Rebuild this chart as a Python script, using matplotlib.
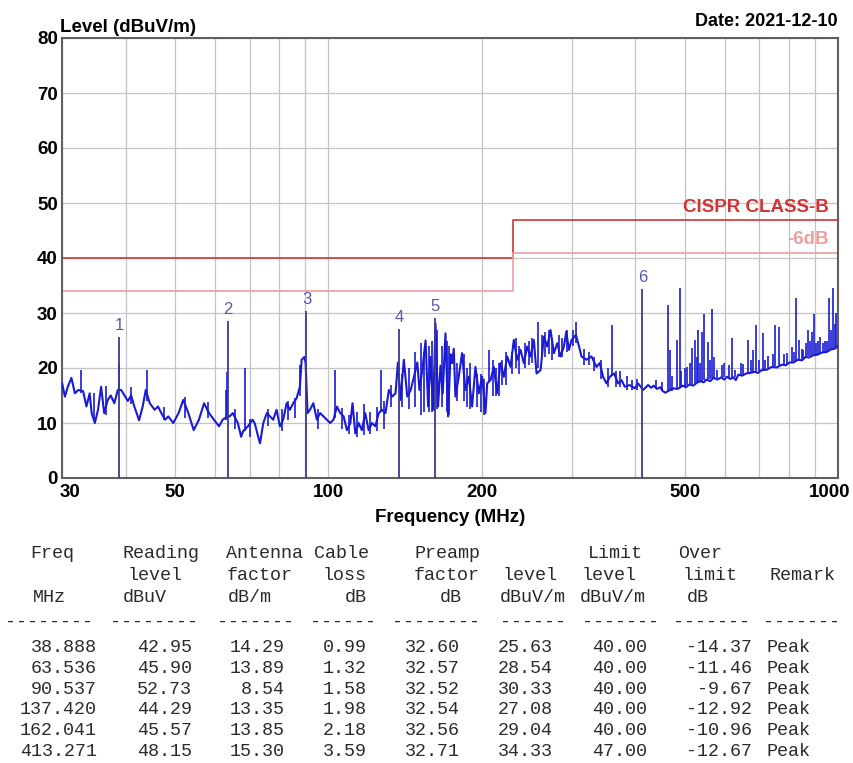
import matplotlib
matplotlib.use("Agg")
import matplotlib.pyplot as plt
from matplotlib.ticker import FixedLocator, NullFormatter
from matplotlib.transforms import ScaledTranslation

# ---- scan trace (baseline) ----
trace_freq = [30.0, 30.4, 30.8, 31.3, 31.8, 32.3, 33.0, 33.5, 34.0, 34.3, 34.8, 35.3, 35.8, 36.3,
              36.9, 37.4, 38.0, 38.6, 39.2, 39.8, 40.4, 41.0, 41.6, 42.5, 43.2, 43.8, 44.6, 45.6,
              46.3, 47.0, 47.8, 48.5, 49.6, 50.8, 51.9, 53.1, 54.4, 55.7, 57.0, 58.3, 59.6, 61.0,
              62.0, 62.9, 64.0, 64.9, 66.4, 67.4, 68.0, 69.5, 71.0,
              71.7, 72.8, 73.4, 74.5, 75.7, 76.8, 77.9, 79.1, 80.3, 81.5, 82.8, 84.0, 85.3, 86.6,
              87.9, 88.6, 89.7, 90.2, 91.0, 92.0, 93.4, 94.9, 96.3, 97.8, 99.3, 100.8, 102.3, 103.9,
              105.5, 107.1, 108.7, 110.4, 111.5, 112.9, 114.6, 116.3, 118.1, 119.9, 121.8, 123.6,
              125.5, 127.4, 129.4, 131.4, 133.4, 135.4, 136.9, 138.5, 140.6, 142.8, 145.0, 147.2,
              149.4, 150.9, 152.8, 155.1, 156.9, 158.6, 160.5, 162.2, 164.1, 165.9, 167.6, 169.7,
              171.7, 173.6, 174.9, 176.2,
              177.5, 180.2, 182.9, 185.7, 188.5, 191.4, 194.3, 197.3, 200.3, 203.3, 204.9, 208.0,
              211.1, 214.3, 217.6, 220.9, 224.3, 227.7, 231.1, 234.6, 238.2, 241.8, 245.5, 249.2,
              253.0, 256.1, 260.8, 264.7, 268.8, 272.8, 277.0, 281.2, 285.4, 289.8, 292.9, 296.5,
              300.0, 305.9, 309.1, 313.8, 320.9, 328.2, 335.7, 340.8, 346.0, 351.2, 356.6, 363.6,
              370.3, 375.9, 381.6, 390.3, 399.2, 405.2, 414.5, 424.0,
              430.0, 434.6, 441.0, 447.9, 452.0, 458.1, 466.0, 475.6, 485.0, 496.0, 503.0, 511.1,
              520.0, 528.0, 536.4, 545.0, 552.0, 561.0, 569.6, 580.0, 590.0, 598.0, 605.0, 615.0,
              623.5, 630.0, 637.7, 648.0, 660.2, 672.0, 686.6, 697.0, 707.7, 725.0, 741.5, 758.0,
              775.8, 790.0, 803.1, 818.0, 833.9, 850.0, 863.2, 878.0, 892.5, 910.0, 929.4, 950.0,
              969.4, 985.0, 1000.0]
trace_level = [17.3, 14.8, 16.6, 18.2, 15.4, 16.0, 15.8, 13.0, 15.4, 11.8, 10.0, 12.4, 16.6, 11.8,
               14.2, 15.0, 13.6, 16.0, 16.0, 15.0, 14.0, 15.0, 13.0, 10.5, 13.0, 16.0, 13.6, 12.4,
               13.0, 11.8, 10.6, 11.2, 10.0, 11.8, 14.2, 11.8, 8.7, 10.6, 13.6, 11.8, 10.6, 9.4,
               10.6, 11.0, 11.2, 11.8, 10.0, 7.5, 8.5, 9.4, 10.6,
               9.9, 7.5, 6.3, 10.0, 11.8, 11.2, 10.6, 12.4, 9.4, 10.6, 13.6, 12.4, 13.6, 14.5,
               16.6, 21.5, 22.0, 20.9, 11.8, 12.4, 13.6, 10.6, 11.8, 11.2, 10.6, 10.0, 10.6, 13.0,
               11.8, 11.2, 8.7, 10.0, 13.6, 8.1, 10.0, 8.7, 11.8, 8.7, 10.0, 9.4,
               11.8, 12.4, 11.8, 16.0, 14.8, 15.4, 21.0, 14.2, 21.5, 14.8, 16.0, 18.4,
               21.0, 16.0, 19.6, 25.0, 13.0, 22.0, 12.4, 28.1, 13.0, 20.4, 15.4, 26.3,
               11.2, 22.5, 20.9, 23.5,
               14.8, 18.4, 22.7, 16.0, 18.4, 13.0, 20.2, 15.4, 18.4, 11.8, 17.2, 17.8,
               20.2, 15.4, 20.9, 18.4, 22.1, 20.2, 25.1, 21.5, 23.3, 20.9, 23.9, 22.1,
               25.1, 19.0, 19.6, 25.7, 23.9, 26.9, 22.7, 24.5, 22.1, 23.9, 26.6, 23.3,
               25.1, 26.0, 24.5, 22.1, 21.5, 22.1, 20.2, 20.9, 18.4, 17.2, 18.4, 19.0,
               17.2, 17.8, 16.6, 16.9, 16.3, 17.2, 16.0, 16.9,
               16.4, 16.8, 16.2, 16.5, 15.9, 15.5, 15.9, 16.3, 16.2, 16.8, 16.5, 17.0,
               16.8, 17.3, 17.6, 17.4, 17.9, 17.6, 18.2, 17.9, 18.3, 17.9, 18.4, 18.0,
               18.3, 17.8, 18.8, 18.6, 19.0, 19.1, 19.3, 19.1, 19.6, 19.7, 20.2, 20.1,
               20.6, 20.5, 21.0, 21.0, 21.5, 21.4, 22.0, 21.9, 22.3, 22.4, 22.8, 22.9,
               23.4, 23.5, 24.0]

# ---- narrow spikes on the trace: frequency, foot, top ----
spike_freq = [32.7, 38.8, 44.0, 63.3, 68.5, 102.8, 126.7, 206.4, 258.0, 305.9, 360.4,
              463.6, 468.5, 482.8, 488.6, 505.0, 516.6, 524.3, 532.3, 540.4, 546.9, 556.9,
              565.4, 578.3, 591.5, 618.8, 628.2, 652.3, 667.2, 682.4, 690.8, 701.3, 714.1,
              730.4, 752.7, 767.6, 793.5, 811.5, 827.6, 840.2, 855.5, 872.4, 888.4, 897.8,
              922.4, 936.4, 953.5, 962.2, 979.7, 987.1,
              34.6, 36.6, 40.9, 47.5, 52.4, 58.0, 63.0, 65.5, 70.2, 76.2, 81.0, 83.4, 85.9,
              88.0, 95.6, 106.3, 109.5, 113.8, 117.2, 120.8, 124.5, 128.5, 132.5, 139.5, 144.0,
              148.2, 151.8, 154.0, 157.7, 159.6, 163.0, 166.8, 170.7, 172.6, 179.0, 184.3, 187.0,
              190.0, 196.0, 199.0, 202.0, 210.0, 213.0, 216.0, 219.0, 223.0, 229.0, 233.0, 237.0,
              243.0, 247.0, 251.0, 262.0, 266.5, 270.5, 275.0, 283.0, 287.5, 294.5, 302.0, 317.0,
              324.0, 332.0, 343.0, 353.0, 366.0, 373.0, 385.0, 395.0, 403.0,
              440.0, 452.0, 472.0, 493.0, 500.0, 512.0, 528.0, 536.0, 560.0, 572.0, 598.0, 611.0,
              645.0, 676.0, 720.0, 745.0, 784.0, 820.0, 848.0, 864.0, 880.0, 905.0, 915.0, 945.0,
              970.0, 993.0]
spike_low = [15.5, 16.0, 14.0, 11.0, 8.5, 11.0, 12.0, 17.5, 20.0, 24.5, 18.5,
             15.7, 15.8, 16.4, 16.5, 16.9, 17.1, 17.2, 17.4, 17.6, 17.8, 18.0,
             18.1, 18.2, 18.3, 18.1, 18.3, 18.9, 19.1, 19.2, 19.3, 19.5, 19.7,
             20.0, 20.3, 20.5, 20.8, 21.1, 21.3, 21.5, 21.8, 22.1, 22.3, 22.4,
             22.7, 22.8, 23.1, 23.2, 23.5, 23.6,
             10.5, 11.5, 13.5, 10.5, 11.0, 11.0, 10.5, 9.0, 7.5, 9.5, 8.5, 10.5, 11.0,
             15.0, 9.0, 9.0, 8.0, 7.5, 7.8, 8.0, 8.5, 9.0, 13.0, 13.0, 12.5,
             13.0, 11.5, 12.0, 12.0, 12.0, 12.5, 13.0, 12.0, 11.5, 14.0, 14.0, 13.0,
             12.5, 13.0, 12.0, 11.5, 15.0, 15.0, 15.0, 17.0, 17.0, 19.0, 20.0, 19.0,
             20.0, 20.5, 21.0, 22.0, 22.0, 22.5, 21.5, 22.0, 22.0, 23.0, 24.0, 20.5,
             20.5, 19.5, 18.0, 16.5, 16.5, 16.5, 16.0, 16.0, 16.0,
             16.3, 15.8, 15.9, 16.5, 16.7, 17.0, 17.3, 17.5, 18.0, 18.2, 18.3, 18.2,
             18.8, 19.2, 19.8, 20.2, 20.7, 21.2, 21.6, 22.0, 22.2, 22.5, 22.6, 23.0,
             23.3, 23.7]
spike_high = [19.6, 20.8, 19.6, 19.2, 20.0, 19.6, 19.6, 23.3, 28.4, 28.4, 27.8,
              31.5, 23.3, 25.1, 34.5, 20.2, 23.6, 25.1, 26.9, 26.6, 29.9, 24.8,
              30.8, 19.6, 20.5, 25.5, 19.6, 20.8, 25.1, 23.3, 27.8, 21.5, 26.4,
              22.1, 27.9, 27.4, 22.7, 23.9, 32.7, 25.1, 23.3, 26.9, 26.6, 29.9,
              25.7, 24.5, 25.0, 32.7, 34.5, 28.0,
              15.5, 16.8, 16.5, 13.0, 14.8, 13.8, 16.0, 12.5, 10.8, 12.5, 12.5, 14.0, 14.5,
              20.5, 12.5, 12.8, 11.5, 12.0, 13.5, 12.0, 13.0, 14.0, 17.0, 19.0, 20.0,
              23.0, 24.5, 23.0, 24.0, 25.0, 27.0, 24.0, 25.0, 24.0, 21.0, 22.5, 20.0,
              21.0, 19.0, 19.0, 18.0, 21.5, 20.0, 21.0, 21.5, 23.0, 23.0, 25.5, 24.0,
              24.5, 25.0, 25.5, 26.0, 26.5, 27.0, 25.5, 26.0, 25.5, 27.0, 27.0, 23.5,
              23.0, 22.0, 21.5, 20.0, 19.5, 19.5, 18.5, 17.8, 18.0,
              17.8, 17.5, 18.5, 19.5, 20.0, 21.0, 22.0, 21.0, 21.5, 22.0, 21.0, 20.5,
              21.0, 21.5, 21.5, 22.5, 22.5, 23.0, 23.5, 24.5, 25.0, 24.5, 25.0, 25.0,
              27.0, 30.0]

# ---- limits ----
limit_freq = [30, 230, 230, 1000]
limit_b = [40, 40, 47, 47]
limit_6db = [34, 34, 41, 41]

# ---- marker table ----
m_freq = [38.888, 63.536, 90.537, 137.420, 162.041, 413.271]
m_reading = [42.95, 45.90, 52.73, 44.29, 45.57, 48.15]
m_antenna = [14.29, 13.89, 8.54, 13.35, 13.85, 15.30]
m_cable = [0.99, 1.32, 1.58, 1.98, 2.18, 3.59]
m_preamp = [32.60, 32.57, 32.52, 32.54, 32.56, 32.71]
m_level = [25.63, 28.54, 30.33, 27.08, 29.04, 34.33]
m_limit = [40.00, 40.00, 40.00, 40.00, 40.00, 47.00]
m_over = [-14.37, -11.46, -9.67, -12.92, -10.96, -12.67]
m_remark = ["Peak"] * 6

plt.rcParams["font.family"] = ["Liberation Sans", "DejaVu Sans"]

fig = plt.figure(figsize=(8.54, 7.63), dpi=100)
W, H = 854, 763
ax = fig.add_axes([62 / W, 1 - 478 / H, 776 / W, 440 / H])

trace_col = "#1a1ad4"
ax.plot(trace_freq, trace_level, color=trace_col, lw=1.5, zorder=3)
ax.vlines(spike_freq, spike_low, spike_high, color=trace_col, lw=1.2, zorder=3)

ax.plot(limit_freq, limit_b, color="#d03434", lw=1.2, zorder=2)
ax.plot(limit_freq, limit_6db, color="#eaa0a0", lw=1.2, zorder=2)

ax.vlines(m_freq, 0, m_level, color="#3a3a8e", lw=1.3, zorder=4)
for i, (f, lv) in enumerate(zip(m_freq, m_level)):
    ax.annotate(str(i + 1), (f, lv), xytext=(0, 3), textcoords="offset points",
                ha="center", va="bottom", color="#5858b0", fontsize=12)

ax.text(957, 47.6, "CISPR CLASS-B", color="#d03434", fontsize=13.5, fontweight="bold",
        ha="right", va="bottom")
ax.text(957, 41.8, "-6dB", color="#eaa0a0", fontsize=13.5, fontweight="bold",
        ha="right", va="bottom")

ax.set_xscale("log")
ax.set_xlim(30, 1000)
ax.set_ylim(0, 80)
ax.xaxis.set_major_locator(FixedLocator([30, 50, 100, 200, 500, 1000]))
ax.xaxis.set_minor_locator(FixedLocator([40, 60, 70, 80, 90, 300, 400, 600, 700, 800, 900]))
ax.xaxis.set_minor_formatter(NullFormatter())
ax.set_xticklabels(["30", "50", "100", "200", "500", "1000"])
ax.set_yticks(range(0, 81, 10))
ax.tick_params(axis="both", which="both", length=0, labelsize=13.5)
ax.tick_params(axis="x", pad=4)
ax.tick_params(axis="y", pad=3)
for lab in ax.get_xticklabels() + ax.get_yticklabels():
    lab.set_fontweight("bold")
xl = ax.get_xticklabels()
xl[0].set_transform(xl[0].get_transform() + ScaledTranslation(8 / 100, 0, fig.dpi_scale_trans))
xl[-1].set_transform(xl[-1].get_transform() + ScaledTranslation(-8 / 100, 0, fig.dpi_scale_trans))
ax.grid(True, which="both", color="#c4c4c4", lw=0.9)
ax.set_axisbelow(True)
for sp in ax.spines.values():
    sp.set_color("#606060")
    sp.set_linewidth(1.5)

ax.set_xlabel("Frequency (MHz)", fontsize=13.5, fontweight="bold", labelpad=6)
fig.text(60 / W, 1 - 28 / H, "Level (dBuV/m)", fontsize=13.5, fontweight="bold",
         ha="left", va="center")
fig.text(838 / W, 1 - 22 / H, "Date: 2021-12-10", fontsize=13, fontweight="bold",
         ha="right", va="center")

# ---- table below the chart ----
mono = dict(family="Liberation Mono", fontsize=13.2, color="#2a2a2a", va="center")

def put(x, y, s, ha="left"):
    fig.text(x / W, 1 - y / H, s, ha=ha, **mono)

y1, y2, y3, yd = 553, 575, 598, 622
for x, s in [(30, "Freq"), (123, "Reading"), (226, "Antenna"), (314, "Cable"), (415, "Preamp")]:
    put(x, y1, s)
for x, s in [(128, "level"), (227, "factor"), (323, "loss"), (414, "factor"), (503, "level"),
             (582, "level"), (683, "limit"), (770, "Remark")]:
    put(x, y2, s)
for x, s in [(33, "MHz"), (123, "dBuV"), (228, "dB/m"), (345, "dB"), (440, "dB"),
             (500, "dBuV/m"), (580, "dBuV/m"), (687, "dB")]:
    put(x, y3, s)
put(588, y1, "Limit")
put(678, y1, "Over")
for x, n in [(5, 8), (110, 8), (217, 7), (310, 6), (392, 8), (500, 6), (582, 7), (673, 7), (763, 7)]:
    put(x, yd, "-" * n)

row_y = 648
for i in range(len(m_freq)):
    y = row_y + i * 20.6
    put(97, y, "%.3f" % m_freq[i], "right")
    put(192, y, "%.2f" % m_reading[i], "right")
    put(285, y, "%.2f" % m_antenna[i], "right")
    put(367, y, "%.2f" % m_cable[i], "right")
    put(460, y, "%.2f" % m_preamp[i], "right")
    put(553, y, "%.2f" % m_level[i], "right")
    put(647, y, "%.2f" % m_limit[i], "right")
    put(752, y, "%.2f" % m_over[i], "right")
    put(767, y, m_remark[i])

fig.savefig("out.png", dpi=100)
